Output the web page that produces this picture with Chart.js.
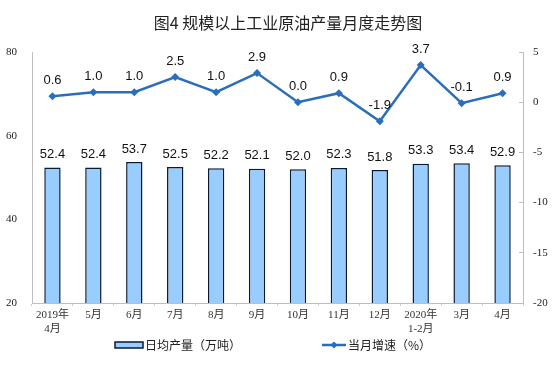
<!DOCTYPE html>
<html>
<head>
<meta charset="utf-8">
<title>规模以上工业原油产量月度走势图</title>
<script src="https://cdn.jsdelivr.net/npm/chart.js@4/dist/chart.umd.min.js"></script>
<style>
  html, body { margin: 0; padding: 0; background: #fff; }
  #wrap { width: 560px; height: 370px; }
</style>
</head>
<body>
<div id="wrap"><canvas id="oilChart" width="560" height="370"></canvas></div>
<script>
// --- Data ---
const TITLE = '图4 规模以上工业原油产量月度走势图';
const months = [['2019年', '4月'], '5月', '6月', '7月', '8月', '9月', '10月', '11月', '12月', ['2020年', '1-2月'], '3月', '4月'];
const dailyOutput = [52.4, 52.4, 53.7, 52.5, 52.2, 52.1, 52.0, 52.3, 51.8, 53.3, 53.4, 52.9];   // 万吨
const monthlyGrowth = [0.6, 1.0, 1.0, 2.5, 1.0, 2.9, 0.0, 0.9, -1.9, 3.7, -0.1, 0.9];          // %
const leftTicks = [20, 40, 60, 80];
const rightTicks = [-20, -15, -10, -5, 0, 5];
const seriesNames = ['日均产量（万吨）', '当月增速（%）'];

// --- Styles ---
const BAR_FILL = '#99ccff';
const BAR_EDGE = '#0b1a33';
const LINE_BLUE = '#2a6ebb';
const AXIS_GREY = '#bfbfbf';
const CJK = '"Noto Sans CJK SC", "Noto Sans", sans-serif';
const SERIF = '"Liberation Serif", "DejaVu Serif", "Noto Sans CJK SC", serif';
const SANS = '"Liberation Sans", Arial, sans-serif';

// value labels, title and legend
const decorations = {
    id: 'decorations',
    afterDatasetsDraw(chart) {
        const ctx = chart.ctx;
        ctx.save();
        ctx.font = '13px ' + SANS;
        ctx.fillStyle = '#111';
        ctx.textAlign = 'center';
        ctx.textBaseline = 'middle';
        chart.getDatasetMeta(0).data.forEach((bar, i) => {
            ctx.fillText(dailyOutput[i].toFixed(1), bar.x, bar.y - 13);
        });
        chart.getDatasetMeta(1).data.forEach((pt, i) => {
            ctx.fillText(monthlyGrowth[i].toFixed(1), pt.x, pt.y - 16);
        });
        ctx.restore();
    },
    afterDraw(chart) {
        const ctx = chart.ctx;
        ctx.save();

        // title
        ctx.font = '16px ' + CJK;
        ctx.fillStyle = '#222';
        ctx.textAlign = 'center';
        ctx.textBaseline = 'middle';
        ctx.fillText(TITLE, 288, 23);

        // legend
        const ly = 345;
        ctx.fillStyle = BAR_FILL;
        ctx.strokeStyle = BAR_EDGE;
        ctx.lineWidth = 1.5;
        ctx.fillRect(115, ly - 3, 28, 6);
        ctx.strokeRect(115, ly - 3, 28, 6);

        ctx.strokeStyle = LINE_BLUE;
        ctx.lineWidth = 2.5;
        ctx.beginPath();
        ctx.moveTo(322, ly);
        ctx.lineTo(346, ly);
        ctx.stroke();
        ctx.fillStyle = LINE_BLUE;
        ctx.beginPath();
        ctx.moveTo(334, ly - 3.5);
        ctx.lineTo(337.5, ly);
        ctx.lineTo(334, ly + 3.5);
        ctx.lineTo(330.5, ly);
        ctx.closePath();
        ctx.fill();

        ctx.font = '12px ' + CJK;
        ctx.fillStyle = '#222';
        ctx.textAlign = 'left';
        ctx.fillText(seriesNames[0], 145, ly);
        ctx.fillText(seriesNames[1], 348, ly);
        ctx.restore();
    }
};

const ctx = document.getElementById('oilChart').getContext('2d');
new Chart(ctx, {
    data: {
        labels: months,
        datasets: [
            {
                type: 'bar',
                label: seriesNames[0],
                data: dailyOutput,
                yAxisID: 'y',
                backgroundColor: BAR_FILL,
                borderColor: BAR_EDGE,
                borderWidth: 1.5,
                barPercentage: 0.4,
                categoryPercentage: 1.0,
                order: 2
            },
            {
                type: 'line',
                label: seriesNames[1],
                data: monthlyGrowth,
                yAxisID: 'y1',
                borderColor: LINE_BLUE,
                backgroundColor: LINE_BLUE,
                borderWidth: 2.5,
                pointStyle: 'rectRot',
                pointRadius: 4,
                pointBorderWidth: 0,
                pointBackgroundColor: LINE_BLUE,
                tension: 0,
                order: 1
            }
        ]
    },
    options: {
        responsive: false,
        animation: false,
        layout: { padding: { top: 52, bottom: 37, left: 0, right: 0 } },
        plugins: {
            legend: { display: false },
            title: { display: false },
            tooltip: { enabled: false }
        },
        scales: {
            x: {
                offset: true,
                grid: { drawOnChartArea: false, offset: true, tickLength: 3, color: '#d0d0d0' },
                border: { color: AXIS_GREY },
                ticks: {
                    color: '#333',
                    font: { family: SERIF, size: 11, lineHeight: 1.3 },
                    padding: 2,
                    maxRotation: 0,
                    autoSkip: false
                },
                afterFit: s => { s.height = 30; }
            },
            y: {
                position: 'left',
                min: 20,
                max: 80,
                afterBuildTicks: s => { s.ticks = leftTicks.map(v => ({ value: v })); },
                grid: { drawOnChartArea: false, drawTicks: false },
                border: { color: AXIS_GREY },
                ticks: { color: '#222', font: { family: SERIF, size: 11 }, padding: 15 },
                afterFit: s => { s.width = 32; }
            },
            y1: {
                position: 'right',
                min: -20,
                max: 5,
                afterBuildTicks: s => { s.ticks = rightTicks.map(v => ({ value: v })); },
                grid: { drawOnChartArea: false, tickLength: -4, color: AXIS_GREY },
                border: { color: AXIS_GREY },
                ticks: { color: '#222', font: { family: SERIF, size: 11 }, padding: 14 },
                afterFit: s => { s.width = 37; }
            }
        }
    },
    plugins: [decorations]
});
</script>
</body>
</html>
